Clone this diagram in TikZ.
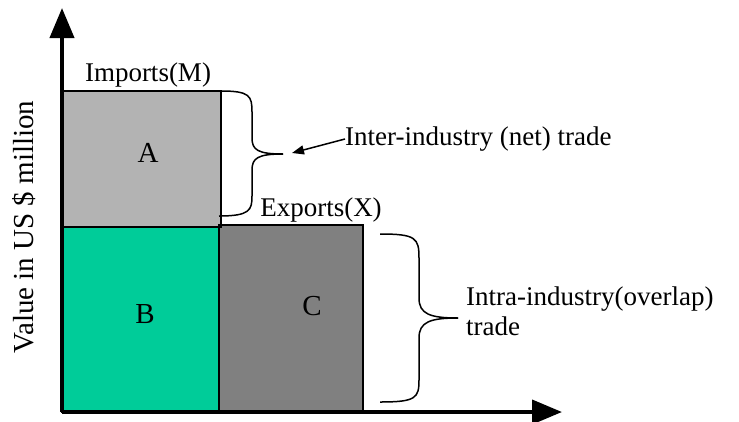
\documentclass[tikz,border=0pt]{standalone}
\usepackage{fontspec}
\setmainfont{Liberation Serif}
\usetikzlibrary{arrows.meta}
\definecolor{boxA}{RGB}{179,179,179}
\definecolor{boxB}{RGB}{0,204,153}
\definecolor{boxC}{RGB}{128,128,128}
\begin{document}
\begin{tikzpicture}[x=1pt,y=-1pt,
  lbl/.style={font=\fontsize{27}{30}\selectfont, inner sep=0pt},
  bar/.style={draw=black, line width=1.5pt},
  axis/.style={line width=4pt, -{Triangle[length=30pt,width=24pt]}},
  brace/.style={line width=1.5pt},
]
\useasboundingbox (0,0) rectangle (739,421);
% boxes
\fill[boxA] (62,91) rectangle (221,227);
\fill[boxB] (62,227) rectangle (219,412);
\fill[boxC] (219,225) rectangle (363,412);
\draw[bar] (62,91) rectangle (221,227);
\draw[bar] (62,227) rectangle (219,412);
\draw[bar] (219,225) rectangle (363,412);
% axes
\coordinate (o) at (62,412);
\coordinate (ytop) at (62,8);
\coordinate (xend) at (562,412);
\draw[axis] (o) -- (ytop);
\draw[axis] (o) -- (xend);
% labels
\node[lbl] (imp) at (148,75) {Imports(M)};
\node[lbl, font=\fontsize{29}{32}\selectfont] (A) at (148,153) {A};
\node[lbl, font=\fontsize{29}{32}\selectfont] (B) at (145,314) {B};
\node[lbl, font=\fontsize{29}{32}\selectfont] (C) at (312,306) {C};
\node[lbl] (exp) at (321,210) {Exports(X)};
\node[lbl, rotate=90, font=\fontsize{29}{32}\selectfont] (yl) at (24,227) {Value in US \$ million};
\node[lbl, anchor=west] (inter) at (345,139) {Inter-industry (net) trade};
\node[lbl, anchor=west, align=left] (intra) at (466,311) {Intra-industry(overlap)\\trade};
% brace 1
\coordinate (b1t) at (221,91);
\coordinate (b1b) at (219,216);
\coordinate (b1tip) at (283,154);
\draw[brace] (b1t) .. controls (250,91) and (252,96) .. (252,112) -- (252,138)
  .. controls (252,150) and (258,154) .. (b1tip);
\draw[brace] (b1b) .. controls (250,216) and (252,210) .. (252,196) -- (252,170)
  .. controls (252,158) and (258,154) .. (b1tip);
% arrow
\coordinate (arrtip) at (292,153);
\draw[line width=1.5pt, -{Triangle[length=12pt,width=9pt]}] (inter.west) -- (arrtip);
% brace 2
\coordinate (b2t) at (380,234);
\coordinate (b2b) at (380,402);
\coordinate (b2tip) at (458,318);
\draw[brace] (b2t) .. controls (416,234) and (419,238) .. (419,258) -- (419,298)
  .. controls (419,314) and (430,318) .. (b2tip);
\draw[brace] (b2b) .. controls (416,402) and (419,398) .. (419,380) -- (419,338)
  .. controls (419,322) and (430,318) .. (b2tip);
\end{tikzpicture}
\end{document}
